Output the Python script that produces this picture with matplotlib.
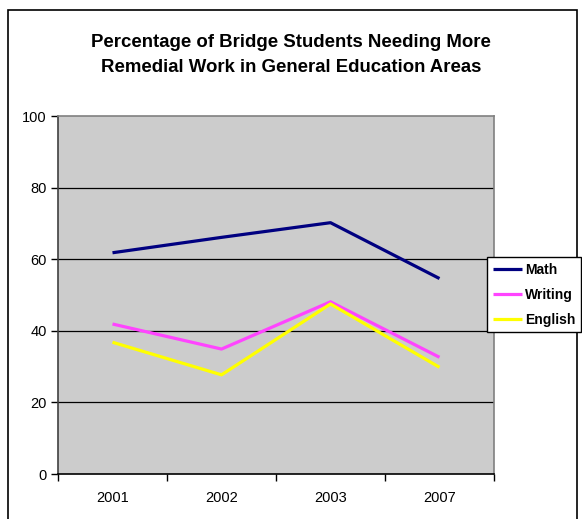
import matplotlib
matplotlib.use("Agg")
import matplotlib.pyplot as plt
from matplotlib.patches import Rectangle

years = ["2001", "2002", "2003", "2007"]
math_vals = [61.8, 66.1, 70.2, 54.6]
writing_vals = [41.9, 34.9, 48.1, 32.6]
english_vals = [36.8, 27.7, 47.5, 29.8]
y_ticks = [0, 20, 40, 60, 80, 100]

plt.rcParams['font.family'] = ['Liberation Sans', 'DejaVu Sans']

W, H = 582, 519
fig = plt.figure(figsize=(W / 100, H / 100), dpi=100)
fig.patch.set_facecolor('white')

# outer chart frame
fig.patches.append(Rectangle((8 / W, -0.1), (577 - 8) / W, 1.1 - 10 / H,
                             transform=fig.transFigure, fill=False,
                             edgecolor='black', linewidth=1.2))

left, right, top, bottom = 58, 494, 116, 474
ax = fig.add_axes([left / W, 1 - bottom / H, (right - left) / W, (bottom - top) / H])
ax.set_facecolor('#CCCCCC')

x = list(range(len(years)))
ax.plot(x, math_vals, color='#000080', lw=2.3, label='Math', solid_capstyle='butt')
ax.plot(x, writing_vals, color='#FF44FF', lw=2.3, label='Writing', solid_capstyle='butt')
ax.plot(x, english_vals, color='#FFFF00', lw=2.3, label='English', solid_capstyle='butt')

ax.set_xlim(-0.5, len(years) - 0.5)
ax.set_ylim(0, 100)
ax.set_yticks(y_ticks)
ax.set_yticklabels([str(v) for v in y_ticks], fontsize=10.5)
ax.set_xticks([i - 0.5 for i in range(len(years) + 1)])
ax.set_xticklabels([])
ax.set_xticks(x, minor=True)
ax.set_xticklabels(years, minor=True, fontsize=10.5)
ax.tick_params(axis='x', which='minor', length=0, pad=12)
ax.tick_params(axis='x', which='major', length=5, direction='out', width=1, color='black')
ax.tick_params(axis='y', length=5, direction='out', width=1, color='black', pad=3)

for yv in y_ticks[1:-1]:
    ax.axhline(yv, color='black', lw=0.9, zorder=1)

for s in ['top', 'right']:
    ax.spines[s].set_color('#808080')
    ax.spines[s].set_linewidth(1.2)
ax.spines['left'].set_color('#404040')
ax.spines['bottom'].set_color('black')
ax.spines['left'].set_linewidth(1.2)
ax.spines['bottom'].set_linewidth(1.2)

fig.text(291 / W, 1 - 55 / H,
         "Percentage of Bridge Students Needing More\nRemedial Work in General Education Areas",
         ha='center', va='center', fontsize=13.4, fontweight='bold', linespacing=1.55)

leg = fig.legend(loc='upper left', bbox_to_anchor=(487 / W, 1 - 257 / H),
                 frameon=True, fancybox=False, edgecolor='black', framealpha=1,
                 prop={'weight': 'bold', 'size': 10}, handlelength=2.1,
                 handletextpad=0.25, borderpad=0.4, labelspacing=0.8,
                 borderaxespad=0)
leg.get_frame().set_linewidth(1.0)

fig.savefig('out.png', dpi=100)
